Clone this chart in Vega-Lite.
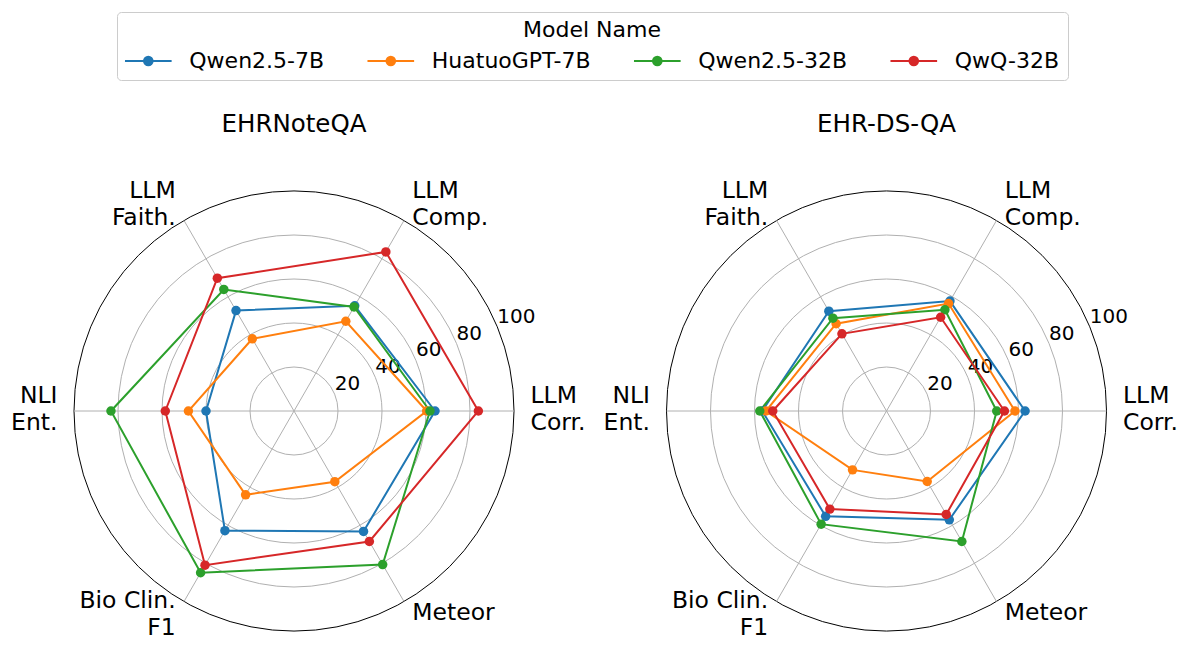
{
  "$schema": "https://vega.github.io/schema/vega-lite/v6.json",
  "background": "white",
  "padding": {"left": 11, "top": 11, "right": 5, "bottom": 5},
  "bounds": "flush",
  "spacing": 152.5,
  "config": {"view": {"stroke": null}, "font": "DejaVu Sans"},
  "datasets": {
    "scores": [
      {"dataset": "EHRNoteQA", "model": "Qwen2.5-7B", "metric": "LLM Corr.", "value": 64.1},
      {"dataset": "EHRNoteQA", "model": "Qwen2.5-7B", "metric": "LLM Comp.", "value": 55.2},
      {"dataset": "EHRNoteQA", "model": "Qwen2.5-7B", "metric": "LLM Faith.", "value": 52.7},
      {"dataset": "EHRNoteQA", "model": "Qwen2.5-7B", "metric": "NLI Ent.", "value": 40.0},
      {"dataset": "EHRNoteQA", "model": "Qwen2.5-7B", "metric": "Bio Clin. F1", "value": 62.8},
      {"dataset": "EHRNoteQA", "model": "Qwen2.5-7B", "metric": "Meteor", "value": 63.2},
      {"dataset": "EHRNoteQA", "model": "HuatuoGPT-7B", "metric": "LLM Corr.", "value": 60.3},
      {"dataset": "EHRNoteQA", "model": "HuatuoGPT-7B", "metric": "LLM Comp.", "value": 47.1},
      {"dataset": "EHRNoteQA", "model": "HuatuoGPT-7B", "metric": "LLM Faith.", "value": 37.9},
      {"dataset": "EHRNoteQA", "model": "HuatuoGPT-7B", "metric": "NLI Ent.", "value": 48.0},
      {"dataset": "EHRNoteQA", "model": "HuatuoGPT-7B", "metric": "Bio Clin. F1", "value": 44.0},
      {"dataset": "EHRNoteQA", "model": "HuatuoGPT-7B", "metric": "Meteor", "value": 37.1},
      {"dataset": "EHRNoteQA", "model": "Qwen2.5-32B", "metric": "LLM Corr.", "value": 61.8},
      {"dataset": "EHRNoteQA", "model": "Qwen2.5-32B", "metric": "LLM Comp.", "value": 54.6},
      {"dataset": "EHRNoteQA", "model": "Qwen2.5-32B", "metric": "LLM Faith.", "value": 63.8},
      {"dataset": "EHRNoteQA", "model": "Qwen2.5-32B", "metric": "NLI Ent.", "value": 83.2},
      {"dataset": "EHRNoteQA", "model": "Qwen2.5-32B", "metric": "Bio Clin. F1", "value": 84.9},
      {"dataset": "EHRNoteQA", "model": "Qwen2.5-32B", "metric": "Meteor", "value": 80.6},
      {"dataset": "EHRNoteQA", "model": "QwQ-32B", "metric": "LLM Corr.", "value": 83.8},
      {"dataset": "EHRNoteQA", "model": "QwQ-32B", "metric": "LLM Comp.", "value": 83.5},
      {"dataset": "EHRNoteQA", "model": "QwQ-32B", "metric": "LLM Faith.", "value": 69.7},
      {"dataset": "EHRNoteQA", "model": "QwQ-32B", "metric": "NLI Ent.", "value": 58.5},
      {"dataset": "EHRNoteQA", "model": "QwQ-32B", "metric": "Bio Clin. F1", "value": 80.9},
      {"dataset": "EHRNoteQA", "model": "QwQ-32B", "metric": "Meteor", "value": 68.5},
      {"dataset": "EHR-DS-QA", "model": "Qwen2.5-7B", "metric": "LLM Corr.", "value": 63.0},
      {"dataset": "EHR-DS-QA", "model": "Qwen2.5-7B", "metric": "LLM Comp.", "value": 57.7},
      {"dataset": "EHR-DS-QA", "model": "Qwen2.5-7B", "metric": "LLM Faith.", "value": 52.4},
      {"dataset": "EHR-DS-QA", "model": "Qwen2.5-7B", "metric": "NLI Ent.", "value": 56.5},
      {"dataset": "EHR-DS-QA", "model": "Qwen2.5-7B", "metric": "Bio Clin. F1", "value": 55.3},
      {"dataset": "EHR-DS-QA", "model": "Qwen2.5-7B", "metric": "Meteor", "value": 57.1},
      {"dataset": "EHR-DS-QA", "model": "HuatuoGPT-7B", "metric": "LLM Corr.", "value": 58.4},
      {"dataset": "EHR-DS-QA", "model": "HuatuoGPT-7B", "metric": "LLM Comp.", "value": 56.4},
      {"dataset": "EHR-DS-QA", "model": "HuatuoGPT-7B", "metric": "LLM Faith.", "value": 45.8},
      {"dataset": "EHR-DS-QA", "model": "HuatuoGPT-7B", "metric": "NLI Ent.", "value": 54.8},
      {"dataset": "EHR-DS-QA", "model": "HuatuoGPT-7B", "metric": "Bio Clin. F1", "value": 30.9},
      {"dataset": "EHR-DS-QA", "model": "HuatuoGPT-7B", "metric": "Meteor", "value": 37.0},
      {"dataset": "EHR-DS-QA", "model": "Qwen2.5-32B", "metric": "LLM Corr.", "value": 50.1},
      {"dataset": "EHR-DS-QA", "model": "Qwen2.5-32B", "metric": "LLM Comp.", "value": 53.1},
      {"dataset": "EHR-DS-QA", "model": "Qwen2.5-32B", "metric": "LLM Faith.", "value": 48.7},
      {"dataset": "EHR-DS-QA", "model": "Qwen2.5-32B", "metric": "NLI Ent.", "value": 57.6},
      {"dataset": "EHR-DS-QA", "model": "Qwen2.5-32B", "metric": "Bio Clin. F1", "value": 59.4},
      {"dataset": "EHR-DS-QA", "model": "Qwen2.5-32B", "metric": "Meteor", "value": 68.5},
      {"dataset": "EHR-DS-QA", "model": "QwQ-32B", "metric": "LLM Corr.", "value": 53.6},
      {"dataset": "EHR-DS-QA", "model": "QwQ-32B", "metric": "LLM Comp.", "value": 49.2},
      {"dataset": "EHR-DS-QA", "model": "QwQ-32B", "metric": "LLM Faith.", "value": 40.5},
      {"dataset": "EHR-DS-QA", "model": "QwQ-32B", "metric": "NLI Ent.", "value": 51.7},
      {"dataset": "EHR-DS-QA", "model": "QwQ-32B", "metric": "Bio Clin. F1", "value": 51.5},
      {"dataset": "EHR-DS-QA", "model": "QwQ-32B", "metric": "Meteor", "value": 54.3}
    ],
    "rings": [
      {"r": 20, "label": "20"},
      {"r": 40, "label": "40"},
      {"r": 60, "label": "60"},
      {"r": 80, "label": "80"},
      {"r": 100, "label": "100"}
    ],
    "spokes": [
      {"metric": "LLM Corr.", "label": "LLM\nCorr."},
      {"metric": "LLM Comp.", "label": "LLM\nComp."},
      {"metric": "LLM Faith.", "label": "LLM\nFaith."},
      {"metric": "NLI Ent.", "label": "NLI\nEnt."},
      {"metric": "Bio Clin. F1", "label": "Bio Clin.\nF1"},
      {"metric": "Meteor", "label": "Meteor"}
    ]
  },
  "hconcat": [
    {
      "width": 440,
      "height": 440,
      "title": {"text": "EHRNoteQA", "fontSize": 24.5, "fontWeight": "normal", "font": "DejaVu Sans", "color": "black", "offset": 42, "anchor": "middle", "frame": "group"},
      "layer": [
        {
          "data": {"name": "rings"},
          "mark": {"type": "point", "filled": false, "strokeWidth": 1, "opacity": 1},
          "encoding": {
            "x": {"datum": 0, "type": "quantitative", "scale": {"domain": [-100, 100], "nice": false, "zero": false}, "axis": null},
            "y": {"datum": 0, "type": "quantitative", "scale": {"domain": [-100, 100], "nice": false, "zero": false}, "axis": null},
            "size": {"field": "r", "type": "quantitative", "scale": {"type": "pow", "exponent": 2, "domain": [0, 100], "range": [0, 193600]}, "legend": null},
            "stroke": {"condition": {"test": "datum.r == 100", "value": "black"}, "value": "#b0b0b0"}
          }
        },
        {
          "data": {"name": "spokes"},
          "transform": [
            {"calculate": "indexof(['LLM Corr.','LLM Comp.','LLM Faith.','NLI Ent.','Bio Clin. F1','Meteor'], datum.metric) * PI / 3", "as": "ang"},
            {"calculate": "100 * cos(datum.ang)", "as": "ex"},
            {"calculate": "100 * sin(datum.ang)", "as": "ey"}
          ],
          "mark": {"type": "rule", "stroke": "#b0b0b0", "strokeWidth": 1},
          "encoding": {
            "x": {"field": "ex", "type": "quantitative", "scale": {"domain": [-100, 100], "nice": false, "zero": false}, "axis": null},
            "y": {"field": "ey", "type": "quantitative", "scale": {"domain": [-100, 100], "nice": false, "zero": false}, "axis": null},
            "x2": {"datum": 0},
            "y2": {"datum": 0}
          }
        },
        {
          "data": {"name": "rings"},
          "transform": [
            {"calculate": "datum.r * cos(PI / 8)", "as": "lx"},
            {"calculate": "datum.r * sin(PI / 8)", "as": "ly"}
          ],
          "mark": {"type": "text", "align": "left", "baseline": "bottom", "fontSize": 20, "font": "DejaVu Sans", "color": "black"},
          "encoding": {
            "x": {"field": "lx", "type": "quantitative", "scale": {"domain": [-100, 100], "nice": false, "zero": false}, "axis": null},
            "y": {"field": "ly", "type": "quantitative", "scale": {"domain": [-100, 100], "nice": false, "zero": false}, "axis": null},
            "text": {"field": "label", "type": "nominal"}
          }
        },
        {
          "data": {"name": "spokes"},
          "transform": [
            {"calculate": "indexof(['LLM Corr.','LLM Comp.','LLM Faith.','NLI Ent.','Bio Clin. F1','Meteor'], datum.metric) * PI / 3", "as": "ang"},
            {"filter": "cos(datum.ang) > 0 && datum.metric != 'Meteor'"},
            {"calculate": "107.5 * cos(datum.ang)", "as": "lx"},
            {"calculate": "107.5 * sin(datum.ang)", "as": "ly"}
          ],
          "mark": {"type": "text", "align": "left", "baseline": "middle", "dy": -15, "fontSize": 23.5, "lineBreak": "\n", "lineHeight": 27, "font": "DejaVu Sans", "color": "black"},
          "encoding": {
            "x": {"field": "lx", "type": "quantitative", "scale": {"domain": [-100, 100], "nice": false, "zero": false}, "axis": null},
            "y": {"field": "ly", "type": "quantitative", "scale": {"domain": [-100, 100], "nice": false, "zero": false}, "axis": null},
            "text": {"field": "label", "type": "nominal"}
          }
        },
        {
          "data": {"name": "spokes"},
          "transform": [
            {"calculate": "indexof(['LLM Corr.','LLM Comp.','LLM Faith.','NLI Ent.','Bio Clin. F1','Meteor'], datum.metric) * PI / 3", "as": "ang"},
            {"filter": "datum.metric == 'Meteor'"},
            {"calculate": "107.5 * cos(datum.ang)", "as": "lx"},
            {"calculate": "107.5 * sin(datum.ang)", "as": "ly"}
          ],
          "mark": {"type": "text", "align": "left", "baseline": "middle", "dy": -3, "fontSize": 23.5, "font": "DejaVu Sans", "color": "black"},
          "encoding": {
            "x": {"field": "lx", "type": "quantitative", "scale": {"domain": [-100, 100], "nice": false, "zero": false}, "axis": null},
            "y": {"field": "ly", "type": "quantitative", "scale": {"domain": [-100, 100], "nice": false, "zero": false}, "axis": null},
            "text": {"field": "label", "type": "nominal"}
          }
        },
        {
          "data": {"name": "spokes"},
          "transform": [
            {"calculate": "indexof(['LLM Corr.','LLM Comp.','LLM Faith.','NLI Ent.','Bio Clin. F1','Meteor'], datum.metric) * PI / 3", "as": "ang"},
            {"filter": "cos(datum.ang) < 0"},
            {"calculate": "107.5 * cos(datum.ang)", "as": "lx"},
            {"calculate": "107.5 * sin(datum.ang)", "as": "ly"}
          ],
          "mark": {"type": "text", "align": "right", "baseline": "middle", "dy": -15, "fontSize": 23.5, "lineBreak": "\n", "lineHeight": 27, "font": "DejaVu Sans", "color": "black"},
          "encoding": {
            "x": {"field": "lx", "type": "quantitative", "scale": {"domain": [-100, 100], "nice": false, "zero": false}, "axis": null},
            "y": {"field": "ly", "type": "quantitative", "scale": {"domain": [-100, 100], "nice": false, "zero": false}, "axis": null},
            "text": {"field": "label", "type": "nominal"}
          }
        },
        {
          "data": {"name": "scores"},
          "transform": [
            {"filter": "datum.dataset == 'EHRNoteQA'"},
            {"calculate": "indexof(['LLM Corr.','LLM Comp.','LLM Faith.','NLI Ent.','Bio Clin. F1','Meteor'], datum.metric) * PI / 3", "as": "ang"},
            {"calculate": "datum.value * cos(datum.ang)", "as": "px"},
            {"calculate": "datum.value * sin(datum.ang)", "as": "py"}
          ],
          "mark": {"type": "line", "strokeWidth": 2, "interpolate": "linear-closed", "point": {"filled": true, "size": 90, "opacity": 1}},
          "encoding": {
            "x": {"field": "px", "type": "quantitative", "scale": {"domain": [-100, 100], "nice": false, "zero": false}, "axis": null},
            "y": {"field": "py", "type": "quantitative", "scale": {"domain": [-100, 100], "nice": false, "zero": false}, "axis": null},
            "order": {"field": "ang", "type": "quantitative"},
            "color": {
              "field": "model", "type": "nominal",
              "scale": {"domain": ["Qwen2.5-7B", "HuatuoGPT-7B", "Qwen2.5-32B", "QwQ-32B"], "range": ["#1f77b4", "#ff7f0e", "#2ca02c", "#d62728"]},
              "legend": {
                "orient": "none", "legendX": 43, "legendY": -179,
                "direction": "horizontal", "columns": 4,
                "title": "Model Name", "titleFontSize": 22, "titleFontWeight": "normal", "titleFont": "DejaVu Sans", "titleColor": "black", "titleAnchor": "middle", "titlePadding": 6,
                "labelFontSize": 22, "labelFont": "DejaVu Sans", "labelColor": "black", "labelOffset": 28,
                "columnPadding": 37.5, "padding": 8,
                "fillColor": "white", "strokeColor": "#cccccc", "cornerRadius": 4,
                "symbolType": "M-2,0H2M0.37,0A0.37,0.37,0,1,1,-0.37,0A0.37,0.37,0,1,1,0.37,0Z",
                "symbolSize": 544, "symbolStrokeWidth": 2, "symbolOffset": 10.3,
                "encode": {"symbols": {"update": {"fill": {"scale": "color", "field": "value"}, "stroke": {"scale": "color", "field": "value"}, "opacity": {"value": 1}}}}
              }
            }
          }
        }
      ]
    },
    {
      "width": 440,
      "height": 440,
      "title": {"text": "EHR-DS-QA", "fontSize": 24.5, "fontWeight": "normal", "font": "DejaVu Sans", "color": "black", "offset": 42, "anchor": "middle", "frame": "group"},
      "layer": [
        {
          "data": {"name": "rings"},
          "mark": {"type": "point", "filled": false, "strokeWidth": 1, "opacity": 1},
          "encoding": {
            "x": {"datum": 0, "type": "quantitative", "scale": {"domain": [-100, 100], "nice": false, "zero": false}, "axis": null},
            "y": {"datum": 0, "type": "quantitative", "scale": {"domain": [-100, 100], "nice": false, "zero": false}, "axis": null},
            "size": {"field": "r", "type": "quantitative", "scale": {"type": "pow", "exponent": 2, "domain": [0, 100], "range": [0, 193600]}, "legend": null},
            "stroke": {"condition": {"test": "datum.r == 100", "value": "black"}, "value": "#b0b0b0"}
          }
        },
        {
          "data": {"name": "spokes"},
          "transform": [
            {"calculate": "indexof(['LLM Corr.','LLM Comp.','LLM Faith.','NLI Ent.','Bio Clin. F1','Meteor'], datum.metric) * PI / 3", "as": "ang"},
            {"calculate": "100 * cos(datum.ang)", "as": "ex"},
            {"calculate": "100 * sin(datum.ang)", "as": "ey"}
          ],
          "mark": {"type": "rule", "stroke": "#b0b0b0", "strokeWidth": 1},
          "encoding": {
            "x": {"field": "ex", "type": "quantitative", "scale": {"domain": [-100, 100], "nice": false, "zero": false}, "axis": null},
            "y": {"field": "ey", "type": "quantitative", "scale": {"domain": [-100, 100], "nice": false, "zero": false}, "axis": null},
            "x2": {"datum": 0},
            "y2": {"datum": 0}
          }
        },
        {
          "data": {"name": "rings"},
          "transform": [
            {"calculate": "datum.r * cos(PI / 8)", "as": "lx"},
            {"calculate": "datum.r * sin(PI / 8)", "as": "ly"}
          ],
          "mark": {"type": "text", "align": "left", "baseline": "bottom", "fontSize": 20, "font": "DejaVu Sans", "color": "black"},
          "encoding": {
            "x": {"field": "lx", "type": "quantitative", "scale": {"domain": [-100, 100], "nice": false, "zero": false}, "axis": null},
            "y": {"field": "ly", "type": "quantitative", "scale": {"domain": [-100, 100], "nice": false, "zero": false}, "axis": null},
            "text": {"field": "label", "type": "nominal"}
          }
        },
        {
          "data": {"name": "spokes"},
          "transform": [
            {"calculate": "indexof(['LLM Corr.','LLM Comp.','LLM Faith.','NLI Ent.','Bio Clin. F1','Meteor'], datum.metric) * PI / 3", "as": "ang"},
            {"filter": "cos(datum.ang) > 0 && datum.metric != 'Meteor'"},
            {"calculate": "107.5 * cos(datum.ang)", "as": "lx"},
            {"calculate": "107.5 * sin(datum.ang)", "as": "ly"}
          ],
          "mark": {"type": "text", "align": "left", "baseline": "middle", "dy": -15, "fontSize": 23.5, "lineBreak": "\n", "lineHeight": 27, "font": "DejaVu Sans", "color": "black"},
          "encoding": {
            "x": {"field": "lx", "type": "quantitative", "scale": {"domain": [-100, 100], "nice": false, "zero": false}, "axis": null},
            "y": {"field": "ly", "type": "quantitative", "scale": {"domain": [-100, 100], "nice": false, "zero": false}, "axis": null},
            "text": {"field": "label", "type": "nominal"}
          }
        },
        {
          "data": {"name": "spokes"},
          "transform": [
            {"calculate": "indexof(['LLM Corr.','LLM Comp.','LLM Faith.','NLI Ent.','Bio Clin. F1','Meteor'], datum.metric) * PI / 3", "as": "ang"},
            {"filter": "datum.metric == 'Meteor'"},
            {"calculate": "107.5 * cos(datum.ang)", "as": "lx"},
            {"calculate": "107.5 * sin(datum.ang)", "as": "ly"}
          ],
          "mark": {"type": "text", "align": "left", "baseline": "middle", "dy": -3, "fontSize": 23.5, "font": "DejaVu Sans", "color": "black"},
          "encoding": {
            "x": {"field": "lx", "type": "quantitative", "scale": {"domain": [-100, 100], "nice": false, "zero": false}, "axis": null},
            "y": {"field": "ly", "type": "quantitative", "scale": {"domain": [-100, 100], "nice": false, "zero": false}, "axis": null},
            "text": {"field": "label", "type": "nominal"}
          }
        },
        {
          "data": {"name": "spokes"},
          "transform": [
            {"calculate": "indexof(['LLM Corr.','LLM Comp.','LLM Faith.','NLI Ent.','Bio Clin. F1','Meteor'], datum.metric) * PI / 3", "as": "ang"},
            {"filter": "cos(datum.ang) < 0"},
            {"calculate": "107.5 * cos(datum.ang)", "as": "lx"},
            {"calculate": "107.5 * sin(datum.ang)", "as": "ly"}
          ],
          "mark": {"type": "text", "align": "right", "baseline": "middle", "dy": -15, "fontSize": 23.5, "lineBreak": "\n", "lineHeight": 27, "font": "DejaVu Sans", "color": "black"},
          "encoding": {
            "x": {"field": "lx", "type": "quantitative", "scale": {"domain": [-100, 100], "nice": false, "zero": false}, "axis": null},
            "y": {"field": "ly", "type": "quantitative", "scale": {"domain": [-100, 100], "nice": false, "zero": false}, "axis": null},
            "text": {"field": "label", "type": "nominal"}
          }
        },
        {
          "data": {"name": "scores"},
          "transform": [
            {"filter": "datum.dataset == 'EHR-DS-QA'"},
            {"calculate": "indexof(['LLM Corr.','LLM Comp.','LLM Faith.','NLI Ent.','Bio Clin. F1','Meteor'], datum.metric) * PI / 3", "as": "ang"},
            {"calculate": "datum.value * cos(datum.ang)", "as": "px"},
            {"calculate": "datum.value * sin(datum.ang)", "as": "py"}
          ],
          "mark": {"type": "line", "strokeWidth": 2, "interpolate": "linear-closed", "point": {"filled": true, "size": 90, "opacity": 1}},
          "encoding": {
            "x": {"field": "px", "type": "quantitative", "scale": {"domain": [-100, 100], "nice": false, "zero": false}, "axis": null},
            "y": {"field": "py", "type": "quantitative", "scale": {"domain": [-100, 100], "nice": false, "zero": false}, "axis": null},
            "order": {"field": "ang", "type": "quantitative"},
            "color": {
              "field": "model", "type": "nominal",
              "scale": {"domain": ["Qwen2.5-7B", "HuatuoGPT-7B", "Qwen2.5-32B", "QwQ-32B"], "range": ["#1f77b4", "#ff7f0e", "#2ca02c", "#d62728"]}
            }
          }
        }
      ]
    }
  ],
  "resolve": {"scale": {"color": "shared"}}
}
